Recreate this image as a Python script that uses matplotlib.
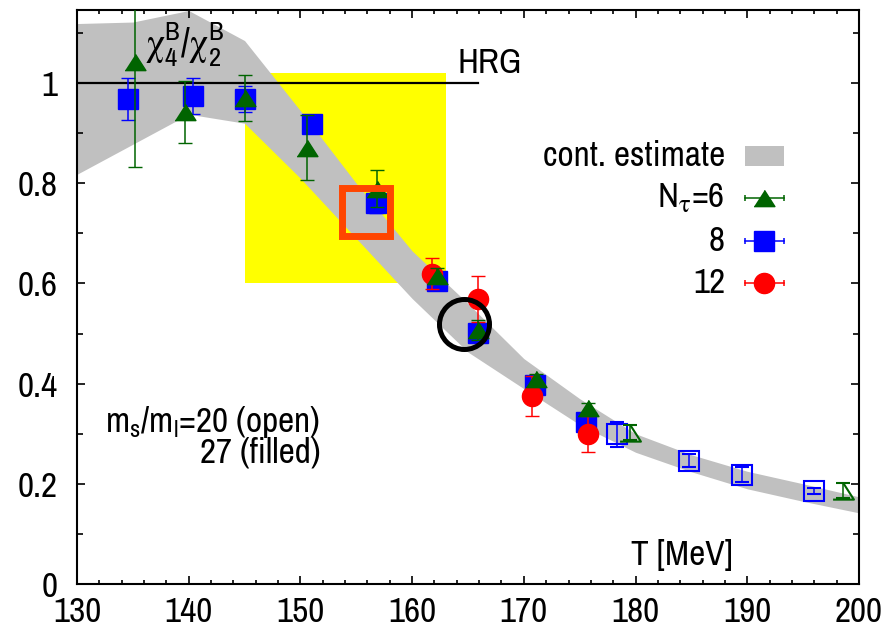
import matplotlib
matplotlib.use("Agg")
import matplotlib.pyplot as plt
from matplotlib.patches import Rectangle
from matplotlib.ticker import MultipleLocator, FixedLocator, FixedFormatter
from matplotlib import font_manager

names = {f.name for f in font_manager.fontManager.ttflist}
FONT = next((n for n in ['Liberation Sans Narrow', 'Archivo Narrow', 'Roboto Condensed', 'Liberation Sans']
             if n in names), 'DejaVu Sans')

plt.rcParams['font.family'] = [FONT, 'Liberation Sans', 'DejaVu Sans']
plt.rcParams['mathtext.fontset'] = 'custom'
plt.rcParams['mathtext.rm'] = FONT
plt.rcParams['mathtext.it'] = FONT + ':italic'
plt.rcParams['mathtext.sf'] = FONT
plt.rcParams['mathtext.fallback'] = 'stix'

# ---------------- data ----------------
# continuum estimate band
band_T = [130, 135, 140, 145, 150, 155, 160, 165, 170, 175, 180, 185, 190, 195, 200]
band_hi = [1.119, 1.122, 1.145, 1.085, 0.945, 0.800, 0.665, 0.560, 0.450, 0.370, 0.300, 0.258, 0.225, 0.200, 0.174]
band_lo = [0.818, 0.878, 0.938, 0.920, 0.810, 0.690, 0.570, 0.463, 0.390, 0.318, 0.263, 0.224, 0.190, 0.165, 0.142]

# N_tau = 6, ms/ml = 27 (filled)
n6_T = [135.2, 139.7, 145.0, 150.6, 156.9, 162.2, 165.9, 171.1, 175.7]
n6_y = [1.042, 0.942, 0.970, 0.871, 0.789, 0.615, 0.507, 0.409, 0.351]
n6_e = [0.210, 0.062, 0.046, 0.065, 0.037, 0.015, 0.020, 0.010, 0.010]
# N_tau = 6, ms/ml = 20 (open)
n6o_T = [179.5, 198.6]
n6o_y = [0.302, 0.186]
n6o_e = [0.015, 0.015]

# N_tau = 8, ms/ml = 27 (filled)
n8_T = [134.6, 140.4, 145.0, 151.0, 156.8, 162.2, 165.9, 171.0, 175.6]
n8_y = [0.968, 0.974, 0.968, 0.918, 0.760, 0.605, 0.501, 0.397, 0.323]
n8_e = [0.042, 0.036, 0.026, 0.015, 0.020, 0.012, 0.012, 0.010, 0.010]
# N_tau = 8, ms/ml = 20 (open)
n8o_T = [178.3, 184.8, 189.5, 196.0]
n8o_y = [0.299, 0.246, 0.218, 0.186]
n8o_e = [0.025, 0.013, 0.015, 0.006]

# N_tau = 12
n12_T = [161.8, 165.9, 170.75, 175.7]
n12_y = [0.619, 0.569, 0.375, 0.299]
n12_e = [0.031, 0.046, 0.040, 0.036]

# HRG limit
hrg_T = [130, 165.9]
hrg_y = [1.0, 1.0]

# highlighted region (yellow box)
box_T = [145, 163]
box_y = [0.60, 1.02]

# highlight markers
hl_square = (155.84, 0.7425)
hl_circle = (164.6, 0.519)

xticks_major = [130, 140, 150, 160, 170, 180, 190, 200]
yticks_major = [0, 0.2, 0.4, 0.6, 0.8, 1.0]
ytick_labels = ['0', '0.2', '0.4', '0.6', '0.8', '1']

legend_labels = ['cont. estimate', r'$\mathregular{N_\tau}$=6', '8', '12']

# ---------------- colors ----------------
c6 = '#006400'
c8 = '#0000ff'
c12 = '#ff0000'
cband = '#c0c0c0'
cyellow = '#ffff00'
chl = '#ff4500'

tri = [(-1, -0.78), (1, -0.78), (0, 0.78)]

fig = plt.figure(figsize=(8.93, 6.34), dpi=100)

# calibrate font size so that text widths match the reference (~182 px for "cont. estimate")
_t = fig.text(0, 0, 'cont. estimate', fontsize=20)
fig.canvas.draw()
_w = _t.get_window_extent().width
_t.remove()
FS = max(16, min(28, 20 * 182.0 / _w))

ax = fig.add_axes([0.0862, 0.0789, 0.8757, 0.9053])
ax.set_xlim(130, 200)
ax.set_ylim(0, 1.146)

ax.add_patch(Rectangle((box_T[0], box_y[0]), box_T[1] - box_T[0], box_y[1] - box_y[0],
                       facecolor=cyellow, edgecolor='none', zorder=0.5))
ax.fill_between(band_T, band_lo, band_hi, color=cband, linewidth=0, zorder=1)
ax.plot(hrg_T, hrg_y, color='black', lw=1.6, zorder=2)
ax.text(164.1, 1.020, 'HRG', fontsize=FS, ha='left', va='baseline', zorder=2)

ekw = dict(capsize=5, elinewidth=1.1, capthick=1.1, linestyle='none')
ax.errorbar(n8_T, n8_y, yerr=n8_e, marker='s', ms=14, color=c8, mec=c8, mfc=c8, mew=1, zorder=3, **ekw)
ax.errorbar(n8o_T, n8o_y, yerr=n8o_e, marker='s', ms=14.5, color=c8, mec=c8, mfc='none', mew=1.5, zorder=3, **ekw)
ax.errorbar(n12_T, n12_y, yerr=n12_e, marker='o', ms=14.5, color=c12, mec=c12, mfc=c12, mew=1, zorder=4, **ekw)
ax.errorbar(n6_T, n6_y, yerr=n6_e, marker=tri, ms=15, color=c6, mec=c6, mfc=c6, mew=1, zorder=5, **ekw)
ax.errorbar(n6o_T, n6o_y, yerr=n6o_e, marker=tri, ms=15, color=c6, mec=c6, mfc='none', mew=1.5, zorder=5, **ekw)

ax.plot([hl_square[0]], [hl_square[1]], marker='s', ms=34.6, mfc='none', mec=chl, mew=5,
        linestyle='none', zorder=6)
ax.plot([hl_circle[0]], [hl_circle[1]], marker='o', ms=36, mfc='none', mec='black', mew=3.6,
        linestyle='none', zorder=6)

# texts
ax.text(139.6, 1.076, r'$\mathregular{\chi_4^B/\chi_2^B}$', fontsize=FS + 2, ha='center', va='center', zorder=7)
ax.text(0.839, 0.033, 'T [MeV]', transform=ax.transAxes, fontsize=FS, ha='right', va='baseline')
ax.text(0.311, 0.265, r'$\mathregular{m_s/m_l}$=20 (open)', transform=ax.transAxes, fontsize=FS,
        ha='right', va='baseline')
ax.text(0.311, 0.211, '27 (filled)', transform=ax.transAxes, fontsize=FS, ha='right', va='baseline')

# legend (drawn manually, gnuplot style)
lx_text = 0.8286
lx0, lx1, lxc = 0.854, 0.904, 0.879
rows = [0.7456, 0.672, 0.597, 0.524]
for lab, yy in zip(legend_labels, rows):
    ax.text(lx_text, yy, lab, transform=ax.transAxes, fontsize=FS, ha='right', va='center')
ax.add_patch(Rectangle((lx0, rows[0] - 0.018), lx1 - lx0, 0.036, transform=ax.transAxes,
                       facecolor=cband, edgecolor='none', zorder=7))
for (col, mk, ms), yy in zip([(c6, tri, 15), (c8, 's', 14), (c12, 'o', 14.5)], rows[1:]):
    ax.plot([lx0, lx1], [yy, yy], transform=ax.transAxes, color=col, lw=1.1, zorder=7)
    ax.plot([lx0, lx1], [yy, yy], transform=ax.transAxes, color=col, marker='|', ms=5,
            mew=1.1, linestyle='none', zorder=7)
    ax.plot([lxc], [yy], transform=ax.transAxes, marker=mk, ms=ms, color=col, mec=col, mew=1,
            linestyle='none', zorder=8)

# axes styling
ax.xaxis.set_major_locator(FixedLocator(xticks_major))
ax.xaxis.set_minor_locator(MultipleLocator(2))
ax.yaxis.set_major_locator(FixedLocator(yticks_major))
ax.yaxis.set_major_formatter(FixedFormatter(ytick_labels))
ax.yaxis.set_minor_locator(MultipleLocator(0.1))
ax.tick_params(which='both', direction='in', top=True, right=True, width=1.2, labelsize=FS)
ax.tick_params(which='major', length=6)
ax.tick_params(which='minor', length=3.2)
ax.tick_params(axis='y', which='minor', length=4)
ax.tick_params(axis='y', pad=14)
ax.tick_params(axis='x', pad=9)
for s in ax.spines.values():
    s.set_linewidth(1.5)

fig.savefig('out.png', dpi=100)
